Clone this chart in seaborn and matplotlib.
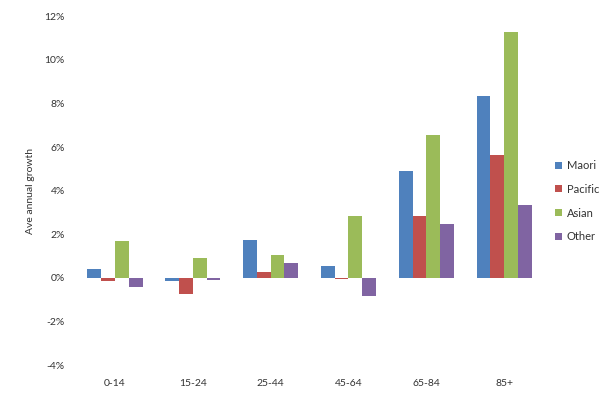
import matplotlib
matplotlib.use("Agg")
import matplotlib.pyplot as plt
import matplotlib.ticker as mticker
import seaborn as sns
import pandas as pd

age_groups = ["0-14", "15-24", "25-44", "45-64", "65-84", "85+"]
maori = [0.40, -0.15, 1.74, 0.52, 4.92, 8.36]
pacific = [-0.15, -0.73, 0.29, -0.05, 2.84, 5.64]
asian = [1.71, 0.93, 1.05, 2.84, 6.56, 11.27]
other = [-0.43, -0.10, 0.70, -0.83, 2.46, 3.35]

series = {"Maori": maori, "Pacific": pacific, "Asian": asian, "Other": other}
colors = ["#4F81BD", "#C0504D", "#9BBB59", "#8064A2"]

rows = []
for name, vals in series.items():
    for grp, v in zip(age_groups, vals):
        rows.append({"Age": grp, "Ethnicity": name, "Growth": v})
df = pd.DataFrame(rows)

sns.set_style("white")
plt.rcParams["font.family"] = ["Lato", "DejaVu Sans"]

fig = plt.figure(figsize=(6.13, 3.94), dpi=100)
ax = fig.add_axes([0.124, 0.0736, 0.762, 0.885])

sns.barplot(data=df, x="Age", y="Growth", hue="Ethnicity", palette=colors,
            width=0.71, saturation=1, ax=ax, errorbar=None,
            linewidth=0, edgecolor="none", dodge=True, gap=0)

ax.set_ylim(-4, 12)
ax.set_yticks(range(-4, 13, 2))
ax.yaxis.set_major_formatter(mticker.FuncFormatter(lambda v, p: f"{v:.0f}%"))
ax.set_xlabel("")
ax.set_ylabel("Ave annual growth", fontsize=7.5, color="#333333", labelpad=7)
ax.tick_params(axis="both", labelsize=7.5, colors="#333333", length=0)
ax.tick_params(axis="x", pad=10)
ax.tick_params(axis="y", pad=8)
for s in ax.spines.values():
    s.set_visible(False)

leg = ax.legend(loc="center left", bbox_to_anchor=(1.005, 0.47), frameon=False,
                fontsize=8, handlelength=0.6, handleheight=0.6,
                handletextpad=0.4, labelspacing=1.15)
for t in leg.get_texts():
    t.set_color("#333333")

fig.savefig("out.png", dpi=100)
